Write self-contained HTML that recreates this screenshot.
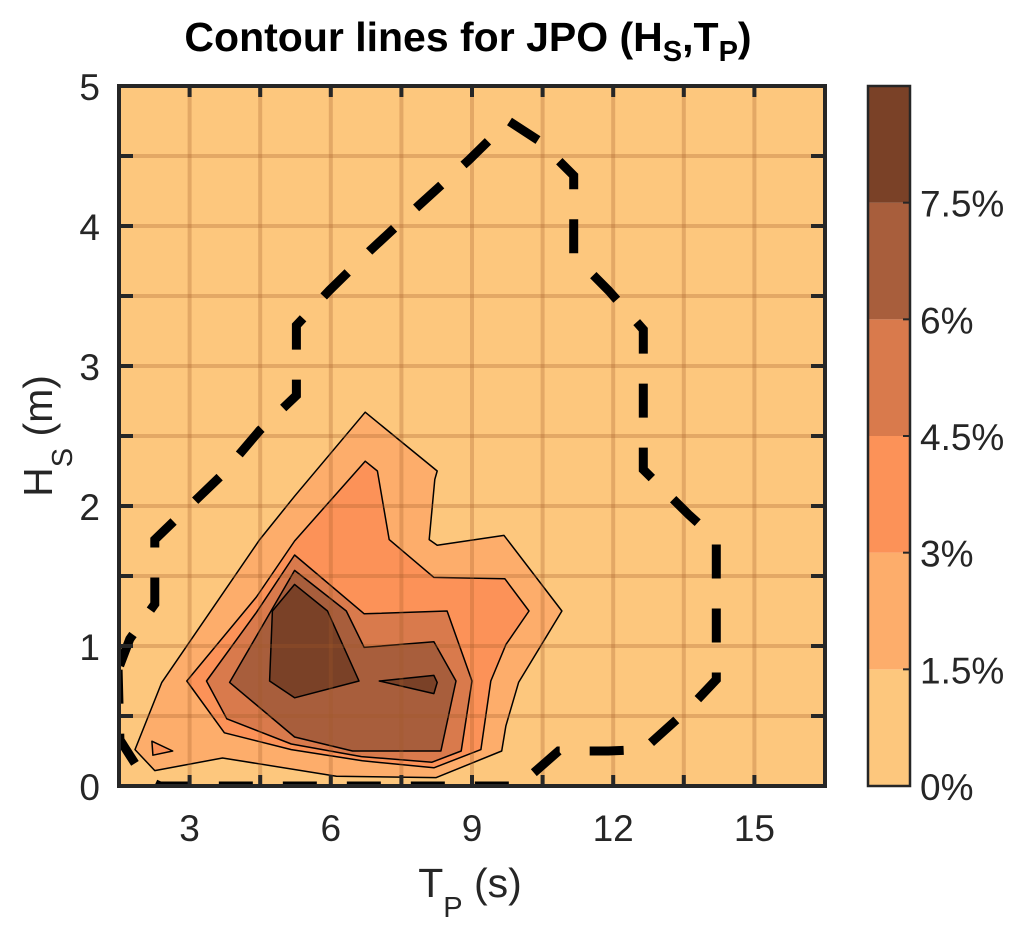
<!DOCTYPE html>
<html><head><meta charset="utf-8"><style>
html,body{margin:0;padding:0;background:#fff;}
svg{display:block;font-family:"Liberation Sans",Arial,sans-serif;}
</style></head><body>
<svg id="chart" width="1024" height="931" viewBox="0 0 1024 931">
<defs><clipPath id="plotclip"><rect x="119" y="86" width="706" height="700"/></clipPath></defs>
<text x="468" y="51" text-anchor="middle" font-size="41" font-weight="bold" fill="#000">Contour lines for JPO (H<tspan font-size="29" dy="10">S</tspan><tspan dy="-10">,T</tspan><tspan font-size="29" dy="10">P</tspan><tspan dy="-10">)</tspan></text>
<g id="plot" clip-path="url(#plotclip)"></g>
<g id="axes"></g>
<g id="cbar"></g>
<text x="470" y="897" text-anchor="middle" font-size="41" fill="#262626">T<tspan font-size="29" dy="20">P</tspan><tspan dy="-20"> (s)</tspan></text>
<text transform="translate(52,436) rotate(-90)" text-anchor="middle" font-size="41" fill="#262626">H<tspan font-size="29" dy="20">S</tspan><tspan dy="-20"> (m)</tspan></text>
</svg>
<script>
const xTicks=[3,6,9,12,15];
const yTicks=[0,1,2,3,4,5];
const cbarLevels=[0,1.5,3,4.5,6,7.5,9];
const cbarTickLabels=["0%","1.5%","3%","4.5%","6%","7.5%"];
const bandColors=["#FDC77D","#FDAD6B","#FC9258","#D97A4C","#A85E3C","#7A4127"];
// contour polygons [T, H]
const level1=[[6.73,2.67],[8.26,2.25],[8.21,2.19],[8.09,1.76],[8.26,1.72],[9.68,1.79],[10.91,1.25],[9.99,0.74],[9.72,0.43],[9.63,0.25],[8.24,0.06],[6.12,0.07],[3.70,0.20],[2.26,0.11],[1.84,0.26],[2.41,0.74],[4.49,1.76],[5.23,2.07]];
const island1=[[2.20,0.32],[2.64,0.25],[2.22,0.22]];
const level2=[[6.73,2.32],[6.99,2.25],[7.24,1.76],[8.19,1.49],[9.70,1.48],[10.21,1.25],[9.72,1.01],[9.40,0.75],[9.19,0.26],[8.19,0.13],[6.67,0.18],[5.16,0.26],[3.74,0.38],[2.94,0.75],[4.42,1.35],[5.23,1.75]];
const level3=[[5.23,1.65],[6.71,1.23],[8.47,1.25],[9.00,0.75],[8.77,0.25],[8.15,0.17],[6.65,0.21],[5.16,0.30],[3.79,0.48],[3.36,0.75],[4.42,1.24]];
const level4=[[5.23,1.54],[6.33,1.25],[6.71,0.99],[8.19,1.03],[8.66,0.75],[8.34,0.25],[6.46,0.25],[5.23,0.35],[3.85,0.74]];
const level5=[[5.23,1.44],[5.93,1.25],[6.60,0.75],[5.23,0.63],[4.70,0.75],[4.76,1.25]];
const island5=[[7.03,0.75],[8.19,0.79],[8.26,0.74],[8.19,0.66]];
const dashedContour=[[1.48,0.83],[1.52,0.33],[2.05,0.05],[2.37,0],[9.99,0],[10.84,0.25],[11.90,0.25],[12.64,0.26],[13.60,0.55],[14.19,0.76],[14.19,1.76],[13.60,1.94],[12.64,2.26],[12.64,3.26],[11.90,3.54],[11.16,3.79],[11.16,4.36],[10.42,4.61],[9.78,4.75],[8.93,4.47],[7.88,4.15],[6.82,3.82],[5.97,3.54],[5.27,3.29],[5.27,2.79],[4.49,2.54],[3.68,2.22],[2.26,1.76],[2.26,1.30],[1.73,1.05],[1.48,0.83]];

const X0=119,X1=825,Y0=786,Y1=86,TMIN=1.5,TMAX=16.5,HMIN=0,HMAX=5;
const sx=t=>X0+(t-TMIN)/(TMAX-TMIN)*(X1-X0);
const sy=h=>Y0-(h-HMIN)/(HMAX-HMIN)*(Y0-Y1);
const NS="http://www.w3.org/2000/svg";
function mk(tag,attrs,parent){const e=document.createElementNS(NS,tag);for(const k in attrs)e.setAttribute(k,attrs[k]);parent.appendChild(e);return e;}
const plot=document.getElementById('plot'),axes=document.getElementById('axes'),cbar=document.getElementById('cbar');
const pts=a=>a.map(p=>sx(p[0]).toFixed(1)+','+sy(p[1]).toFixed(1)).join(' ');

let bg=mk('rect',{x:X0,y:Y1,width:X1-X0,height:Y0-Y1,fill:bandColors[0]},plot);


const fills=[[level1,1],[island1,2],[level2,2],[level3,3],[level4,4],[level5,5],[island5,5]];
fills.forEach((f,i)=>{
  const p=mk('polygon',{points:pts(f[0]),fill:bandColors[f[1]],stroke:'#000','stroke-width':1.5,'stroke-linejoin':'round'},plot);
  
  
});
for(let t=3;t<16.5;t+=1.5){
  const l=mk('line',{x1:sx(t),x2:sx(t),y1:Y1,y2:Y0,stroke:'rgba(160,90,40,0.28)','stroke-width':4},plot);
  
  
}
for(let h=0.5;h<5;h+=0.5){
  const l=mk('line',{x1:X0,x2:X1,y1:sy(h),y2:sy(h),stroke:'rgba(160,90,40,0.28)','stroke-width':4},plot);
  
  
}
const dl=mk('polyline',{points:pts(dashedContour),fill:'none',stroke:'#000','stroke-width':9,'stroke-dasharray':'34 30'},plot);


const box=mk('rect',{x:X0,y:Y1,width:X1-X0,height:Y0-Y1,fill:'none',stroke:'#262626','stroke-width':4},axes);


for(let t=3;t<16.5;t+=1.5){
  mk('line',{x1:sx(t),x2:sx(t),y1:Y0,y2:Y0-11,stroke:'#262626','stroke-width':4},axes);
  mk('line',{x1:sx(t),x2:sx(t),y1:Y1,y2:Y1+11,stroke:'#262626','stroke-width':4},axes);
}
for(let h=0.5;h<5;h+=0.5){
  mk('line',{x1:X0,x2:X0+14,y1:sy(h),y2:sy(h),stroke:'#262626','stroke-width':4},axes);
  mk('line',{x1:X1,x2:X1-14,y1:sy(h),y2:sy(h),stroke:'#262626','stroke-width':4},axes);
}
xTicks.forEach(t=>{
  const e=mk('text',{x:sx(t),y:841,'text-anchor':'middle','font-size':37,fill:'#262626'},axes);
  e.textContent=t;
  
  
});
yTicks.forEach(h=>{
  const e=mk('text',{x:100,y:sy(h)+14,'text-anchor':'end','font-size':37,fill:'#262626'},axes);
  e.textContent=h;
  
  
});
const CX=868,CW=42,CY0=786,CY1=86;
const cy=v=>CY0-(v-cbarLevels[0])/(cbarLevels[cbarLevels.length-1]-cbarLevels[0])*(CY0-CY1);
for(let i=0;i<bandColors.length;i++){
  const r=mk('rect',{x:CX,y:cy(cbarLevels[i+1]),width:CW,height:cy(cbarLevels[i])-cy(cbarLevels[i+1]),fill:bandColors[i]},cbar);
  
  
}
const cf=mk('rect',{x:CX,y:CY1,width:CW,height:CY0-CY1,fill:'none',stroke:'#262626','stroke-width':2.5},cbar);


cbarTickLabels.forEach((lab,i)=>{
  const v=cbarLevels[i];
  mk('line',{x1:CX+CW,x2:CX+CW-7,y1:cy(v),y2:cy(v),stroke:'#262626','stroke-width':2},cbar);
  const e=mk('text',{x:920,y:cy(v)+14,'font-size':37,fill:'#262626'},cbar);
  e.textContent=lab;
  
  
});
</script>
</body></html>
